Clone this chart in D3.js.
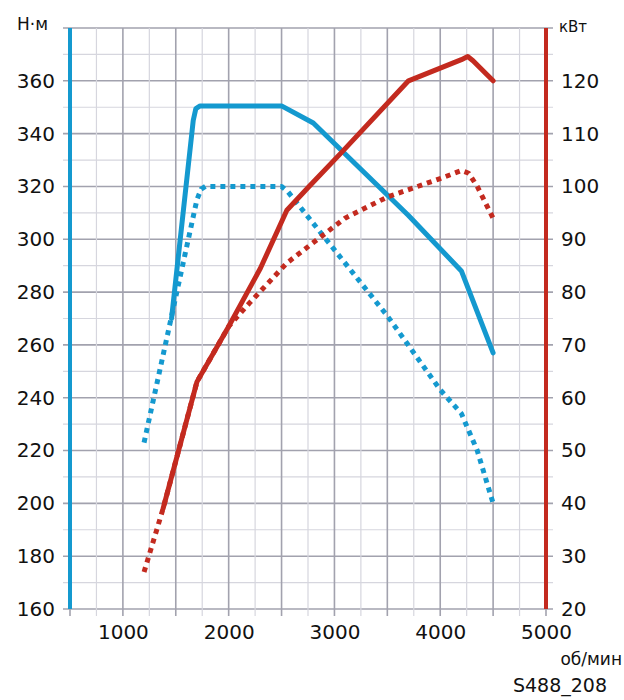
<!DOCTYPE html>
<html>
<head>
<meta charset="utf-8">
<script src="https://cdn.jsdelivr.net/npm/d3@7"></script>
<style>
  html, body { margin: 0; padding: 0; background: #ffffff; }
  svg { display: block; }
  text { font-family: "DejaVu Sans", sans-serif; fill: #111; }
</style>
</head>
<body>
<svg id="chart" width="624" height="700"></svg>
<script>
// ---- data ----
const rpmTicks = [1000, 2000, 3000, 4000, 5000];
const torqueTicks = [160, 180, 200, 220, 240, 260, 280, 300, 320, 340, 360];
const powerTicks = [20, 30, 40, 50, 60, 70, 80, 90, 100, 110, 120];

const torqueSolidRpm = [1460, 1665, 1690, 1730, 2500, 2800, 3700, 4200, 4500];
const torqueSolidNm  = [270, 345, 349.5, 350.5, 350.5, 344, 309, 288, 257];

const torqueDotRpm = [1200, 1700, 1740, 1780, 2500, 2560, 3000, 3500, 4000, 4200, 4350, 4500];
const torqueDotNm  = [223, 315, 319, 320, 320, 318, 296, 271, 243, 234, 220, 200];

const powerSolidRpm = [1380, 1700, 2000, 2300, 2550, 2760, 3070, 3700, 4200, 4260, 4310, 4500];
const powerSolidKw  = [39, 63, 73.5, 84.5, 95.5, 100, 106.5, 120, 124, 124.6, 123.8, 120];

const powerDotRpm = [1200, 1380, 1700, 2000, 2200, 2550, 3100, 3500, 4000, 4200, 4270, 4350, 4500];
const powerDotKw  = [27, 39, 63, 73.5, 78, 85.5, 94, 98, 101.5, 103, 102.5, 100, 94];

const blue = "#1499cf";
const red = "#c32a1f";

// ---- scales ----
const svg = d3.select("#chart");
const x = d3.scaleLinear().domain([500, 5000]).range([70, 546]);
const yL = d3.scaleLinear().domain([160, 380]).range([609, 28]);
const yR = d3.scaleLinear().domain([20, 130]).range([609, 28]);

// ---- grid ----
const vGrid = d3.range(500, 5001, 250);
const hGrid = d3.range(160, 381, 10);
const g = svg.append("g");
g.selectAll("line.h").data(hGrid).join("line")
  .attr("x1", 63).attr("x2", 553)
  .attr("y1", d => yL(d)).attr("y2", d => yL(d))
  .attr("stroke", d => d % 20 === 0 ? "#a2a2ae" : "#d6d6de")
  .attr("stroke-width", d => d % 20 === 0 ? 1.6 : 1.2);
g.selectAll("line.v").data(vGrid).join("line")
  .attr("x1", d => x(d)).attr("x2", d => x(d))
  .attr("y1", 28).attr("y2", 616)
  .attr("stroke", d => d % 500 === 0 ? "#a2a2ae" : "#d6d6de")
  .attr("stroke-width", d => d % 500 === 0 ? 1.6 : 1.2);

// ---- axes lines ----
svg.append("line").attr("x1", x(500)).attr("x2", x(500)).attr("y1", 28).attr("y2", 609)
  .attr("stroke", blue).attr("stroke-width", 4);
svg.append("line").attr("x1", x(5000)).attr("x2", x(5000)).attr("y1", 28).attr("y2", 609)
  .attr("stroke", red).attr("stroke-width", 4);

// ---- axis labels ----
const axL = svg.append("g").attr("transform", `translate(${x(500)},0)`)
  .call(d3.axisLeft(yL).tickValues(torqueTicks).tickSize(0).tickPadding(15));
const axR = svg.append("g").attr("transform", `translate(${x(5000)},0)`)
  .call(d3.axisRight(yR).tickValues(powerTicks).tickSize(0).tickPadding(15));
const axB = svg.append("g").attr("transform", `translate(0,609)`)
  .call(d3.axisBottom(x).tickValues(rpmTicks).tickSize(0).tickPadding(16).tickFormat(d3.format("d")));
[axL, axR, axB].forEach(a => {
  a.select(".domain").remove();
  a.selectAll("text").attr("font-size", 20).attr("font-family", "DejaVu Sans").attr("fill", "#111");
});

// ---- curves ----
function drawLine(xs, ys, yScale, color, dotted) {
  const pts = xs.map((v, i) => [v, ys[i]]);
  const line = d3.line().x(d => x(d[0])).y(d => yScale(d[1])).curve(d3.curveLinear);
  svg.append("path").datum(pts)
    .attr("d", line)
    .attr("fill", "none")
    .attr("stroke", color)
    .attr("stroke-width", 5)
    .attr("stroke-linejoin", "round")
    .attr("stroke-linecap", dotted ? "butt" : "round")
    .attr("stroke-dasharray", dotted ? "5,5" : null);
}
drawLine(torqueDotRpm, torqueDotNm, yL, blue, true);
drawLine(torqueSolidRpm, torqueSolidNm, yL, blue, false);
drawLine(powerDotRpm, powerDotKw, yR, red, true);
drawLine(powerSolidRpm, powerSolidKw, yR, red, false);

// ---- unit labels ----
svg.append("text").attr("x", 17).attr("y", 30).attr("font-size", 17).text("Н·м");
svg.append("text").attr("x", 559).attr("y", 32).attr("font-size", 15).text("кВт");
svg.append("text").attr("x", 622).attr("y", 665).attr("text-anchor", "end").attr("font-size", 17).text("об/мин");
svg.append("text").attr("x", 607).attr("y", 692).attr("text-anchor", "end").attr("font-size", 19).text("S488_208");
</script>
</body>
</html>
